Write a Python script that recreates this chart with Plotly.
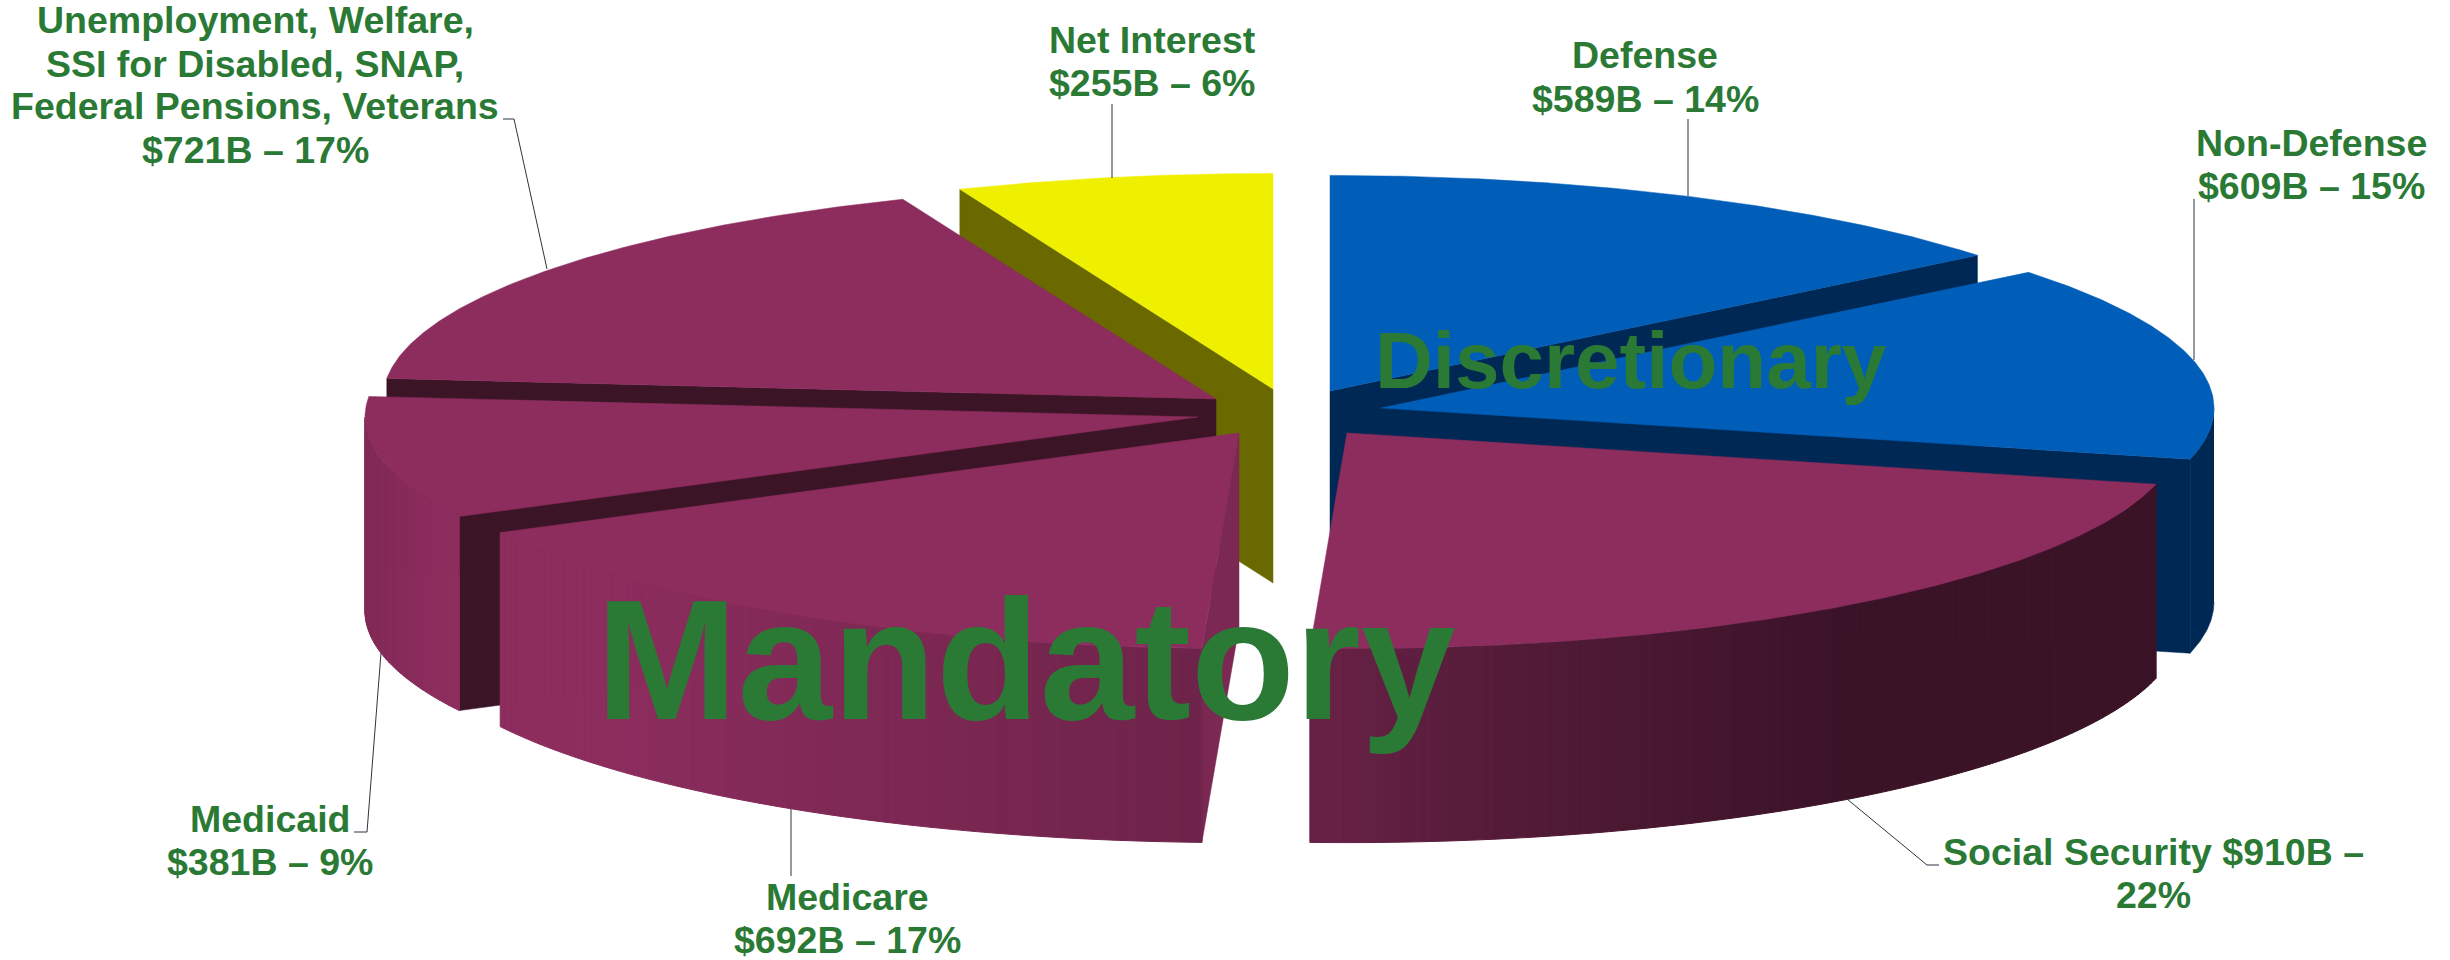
import numpy as np
import plotly.graph_objects as go

# ---- data ----
categories = ["Defense", "Non-Defense", "Social Security", "Medicare", "Medicaid",
              "Unemployment, Welfare, SSI for Disabled, SNAP, Federal Pensions, Veterans",
              "Net Interest"]
values = [589, 609, 910, 692, 381, 721, 255]
label_lines = [
    ["Defense", "$589B – 14%"],
    ["Non-Defense", "$609B – 15%"],
    ["Social Security $910B –", "22%"],
    ["Medicare", "$692B – 17%"],
    ["Medicaid", "$381B – 9%"],
    ["Unemployment, Welfare,", "SSI for Disabled, SNAP,", "Federal Pensions, Veterans", "$721B – 17%"],
    ["Net Interest", "$255B – 6%"],
]

# ---- layout of the exploded pie (axis units are page pixels) ----
RX, RY, DEPTH = 833, 215.6, 194
apex_x = [1330, 1381, 1347, 1239, 1198, 1216, 1273]
apex_y = [391, 408, 433, 433, 417, 399, 389]
draw_order = [6, 0, 5, 1, 4, 2, 3]

BLUE, DBLUE = "#005EB8", "#002855"
MAROON, DMAROON, MIDMAROON = "#8C2D5E", "#3B1426", "#7B2853"
YELLOW, OLIVE = "#EFEF00", "#696900"
top_col = [BLUE, BLUE, MAROON, MAROON, MAROON, MAROON, YELLOW]
face_col = [DBLUE, DBLUE, DMAROON, MIDMAROON, DMAROON, DMAROON, OLIVE]
wall_shaded = [False, False, True, True, True, True, False]
wall_col = [DBLUE, DBLUE, MAROON, MAROON, MAROON, MAROON, OLIVE]
GREEN = "#2A7A35"
FONT = "Liberation Sans"
LABEL_SIZE = 37.5

label_x = [1645, 2311, 2153, 847, 270, 255, 1152]
label_base = [[68, 112], [156, 199], [865.5, 908.5], [910, 953], [832, 875],
              [33, 77, 119, 163], [53, 96]]
leaders = [
    [(1688, 119), (1688, 196)],
    [(2194, 199), (2194, 360)],
    [(1847, 799), (1927, 865), (1939, 865)],
    [(791, 809), (791, 876)],
    [(381, 653), (367, 832), (354, 832)],
    [(503, 119), (514, 119), (547, 269)],
    [(1112, 104), (1112, 178)],
]

# ---- derive angles from values ----
fracs = np.array(values) / sum(values)
edges = np.concatenate([[0], np.cumsum(fracs)]) * 360.0


def rim(i, t_deg):
    t = np.radians(t_deg)
    return apex_x[i] + RX * np.sin(t), apex_y[i] - RY * np.cos(t)


def shade(colour, x):
    k = np.interp(x, [367, 440, 600, 1204, 1308, 1500, 1847],
                  [0.92, 1.0, 1.0, 0.78, 0.75, 0.60, 0.42])
    r, g, b = (int(colour[j:j + 2], 16) for j in (1, 3, 5))
    return f"rgb({r * k:.0f},{g * k:.0f},{b * k:.0f})"


fig = go.Figure()


def poly(xs, ys, colour, name, seam=0.0):
    fig.add_trace(go.Scatter(
        x=list(xs), y=list(ys), mode="lines", fill="toself", fillcolor=colour,
        line=dict(color=colour, width=seam), name=name, hoverinfo="skip", showlegend=False))


for i in draw_order:
    t0, t1 = edges[i], edges[i + 1]
    name = categories[i]
    # radial cut faces that turn towards the viewer
    for t, visible in ((t0, np.sin(np.radians(t0)) < -1e-6), (t1, np.sin(np.radians(t1)) > 1e-6)):
        if visible:
            rx, ry = rim(i, t)
            ax, ay = apex_x[i], apex_y[i]
            poly([ax, rx, rx, ax, ax], [ay, ry, ry + DEPTH, ay + DEPTH, ay], face_col[i], name, 0.5)
    # outer wall (front half only)
    a, b = max(t0, 90), min(t1, 270)
    if b > a:
        if wall_shaded[i]:
            n = max(2, int((b - a) / 0.75))
            ts = np.linspace(a, b, n + 1)
            for u, v in zip(ts[:-1], ts[1:]):
                xu, yu = rim(i, u)
                xv, yv = rim(i, v)
                poly([xu, xv, xv, xu, xu], [yu, yv, yv + DEPTH, yu + DEPTH, yu],
                     shade(wall_col[i], (xu + xv) / 2), name, 1)
        else:
            ts = np.linspace(a, b, 60)
            xs, ys = rim(i, ts)
            poly(np.r_[xs, xs[::-1]], np.r_[ys, ys[::-1] + DEPTH], wall_col[i], name, 0.5)
    # top surface
    ts = np.linspace(t0, t1, 160)
    xs, ys = rim(i, ts)
    poly(np.r_[apex_x[i], xs, apex_x[i]], np.r_[apex_y[i], ys, apex_y[i]], top_col[i], name, 0.5)

# leader lines
for pts in leaders:
    xs, ys = zip(*pts)
    fig.add_trace(go.Scatter(x=xs, y=ys, mode="lines", line=dict(color="#2B3540", width=1),
                             hoverinfo="skip", showlegend=False))

annotations = []
for i, lines in enumerate(label_lines):
    for text, base in zip(lines, label_base[i]):
        annotations.append(dict(x=label_x[i], y=base - 0.35 * LABEL_SIZE, text=text, showarrow=False,
                                xanchor="center", yanchor="middle",
                                font=dict(family=FONT, size=LABEL_SIZE, color=GREEN, weight="bold")))
for text, x, base, size in (("Mandatory", 1026, 719, 170), ("Discretionary", 1631, 388, 80)):
    annotations.append(dict(x=x, y=base - 0.35 * size, text=text, showarrow=False,
                            xanchor="center", yanchor="middle",
                            font=dict(family=FONT, size=size, color=GREEN, weight="bold")))

fig.update_layout(
    width=2450, height=960, margin=dict(l=0, r=0, t=0, b=0),
    paper_bgcolor="white", plot_bgcolor="white", showlegend=False,
    xaxis=dict(range=[0, 2450], visible=False, fixedrange=True),
    yaxis=dict(range=[960, 0], visible=False, fixedrange=True),
    annotations=annotations,
)
fig.write_html("out.html", config={"displayModeBar": False},
               post_script="document.body.style.margin='0';document.body.style.overflow='hidden';")
